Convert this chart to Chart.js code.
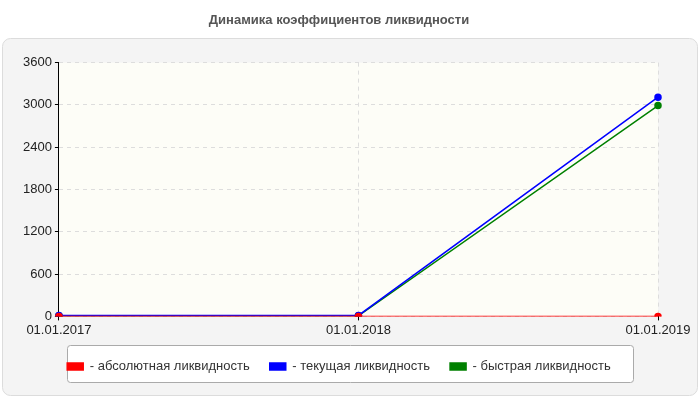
<!DOCTYPE html><html><head><meta charset="utf-8">
<script src="https://cdn.jsdelivr.net/npm/chart.js@4"></script>
<style>body{margin:0;background:#fff}#w{width:700px;height:400px}</style></head><body>
<div id="w"><canvas id="c"></canvas></div>
<script>
const categories=['01.01.2017','01.01.2018','01.01.2019'];
const absoluteLiq=[0,0,0];
const quickLiq=[8,8,2990];
const currentLiq=[14,14,3110];
const seriesNames=['- абсолютная ликвидность','- быстрая ликвидность','- текущая ликвидность'];
const titleText='Динамика коэффициентов ликвидности';
const bgPlugin={id:'bg',beforeDraw(ch){const c=ch.ctx,a=ch.chartArea;c.save();
c.fillStyle='#f4f4f4';c.strokeStyle='#dcdcdc';c.beginPath();c.roundRect(2.5,38.5,695,357,8);c.fill();c.stroke();
c.fillStyle='#fdfdf7';c.fillRect(a.left,a.top,a.right-a.left,a.bottom-a.top);
c.fillStyle='#fff';c.strokeStyle='#aaa';c.beginPath();c.roundRect(67.5,345.5,566,37,3);c.fill();c.stroke();c.restore();}};
const mk=(l,d,col,o)=>({label:l,data:d,borderColor:col,backgroundColor:col,borderWidth:1.5,pointRadius:3,pointBackgroundColor:col,pointBorderColor:col,tension:0,order:o});
new Chart(document.getElementById('c'),{type:'line',
data:{labels:categories,datasets:[mk(seriesNames[0],absoluteLiq,'#ff0000',0),mk(seriesNames[1],quickLiq,'#008000',2),mk(seriesNames[2],currentLiq,'#0000ff',1)]},
options:{responsive:true,maintainAspectRatio:false,animation:false,
layout:{padding:{left:20,right:42,top:0,bottom:17}},
plugins:{title:{display:true,text:titleText,color:'#555',font:{family:'Liberation Sans',size:13,weight:'bold'},padding:{top:13,bottom:34}},
legend:{position:'bottom',labels:{boxWidth:16,boxHeight:7,padding:20,color:'#333',font:{family:'Liberation Sans',size:13}}},tooltip:{enabled:false}},
scales:{x:{offset:false,grid:{color:'#ddd',tickLength:4,tickColor:'#000'},border:{display:false,dash:[4,4]},ticks:{color:'#222',font:{family:'Liberation Sans',size:13},maxRotation:0,padding:2}},
y:{min:0,max:3600,ticks:{stepSize:600,color:'#222',font:{family:'Liberation Sans',size:13},padding:3,callback:v=>String(v)},grid:{color:'#ddd',tickLength:4,tickColor:'#000'},border:{color:'#000',dash:[4,4]}}}},
plugins:[bgPlugin]});
</script></body></html>
